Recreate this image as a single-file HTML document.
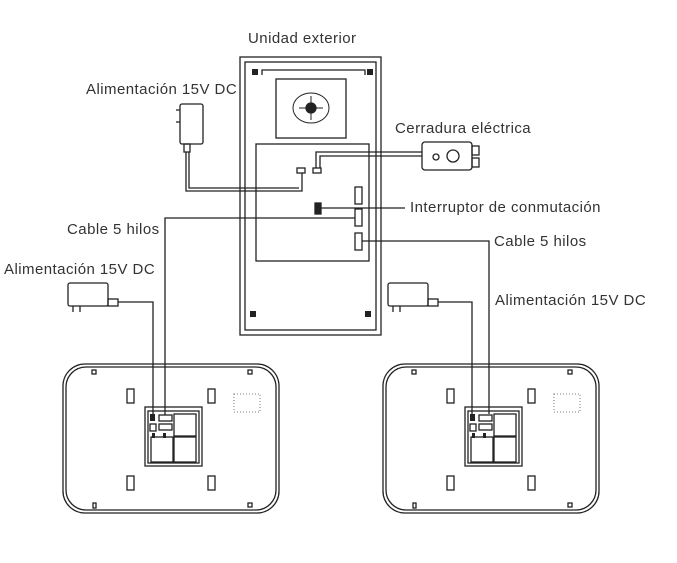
<!DOCTYPE html>
<html><head><style>
body{margin:0;background:#fff;}
svg{display:block;font-family:"Liberation Sans",sans-serif;}
text{font-size:15px;fill:#333;letter-spacing:0.45px;}
</style></head><body>
<svg width="677" height="563" viewBox="0 0 677 563" xmlns="http://www.w3.org/2000/svg">
<g fill="none" stroke="#222" stroke-width="1.3">
<rect x="240" y="57" width="141" height="278"/>
<rect x="245" y="62" width="131" height="268"/>
<path d="M262 75 L262 70 L365 70 L365 75"/>
<rect x="276" y="79" width="70" height="59"/>
<ellipse cx="311" cy="108" rx="18" ry="15" stroke-width="1"/>
<path d="M311 96 v24 M299 108 h24" stroke-width="1"/>
<circle cx="311" cy="108" r="5" fill="#222"/>
<rect x="256" y="144" width="113" height="117"/>
<rect x="355" y="187" width="7" height="17"/>
<rect x="355" y="209" width="7" height="17"/>
<rect x="355" y="233" width="7" height="17"/>
<rect x="315" y="203" width="6" height="11" fill="#222"/>
<rect x="297" y="168" width="8" height="5"/>
<rect x="313" y="168" width="8" height="5"/>
</g>
<g fill="#222">
<rect x="252" y="69" width="6" height="6"/><rect x="367" y="69" width="6" height="6"/>
<rect x="250" y="311" width="6" height="6"/><rect x="365" y="311" width="6" height="6"/>
</g>
<g fill="none" stroke="#222" stroke-width="1.3">
<rect x="180" y="104" width="23" height="40" rx="2"/>
<path d="M176 110 h4 M176 122 h4"/>
<rect x="184" y="144" width="6" height="8"/>
<path d="M186 152 V191 H302 V173"/>
<path d="M189 152 V188 H299"/>
<rect x="422" y="142" width="50" height="28" rx="3"/>
<rect x="472" y="146" width="7" height="9"/><rect x="472" y="158" width="7" height="9"/>
<circle cx="436" cy="157" r="3"/><circle cx="453" cy="156" r="6"/>
<path d="M422 152 H316 V168"/>
<path d="M422 156 H320 V168"/>
<path d="M321 208 H405"/>
<path d="M355 218 H165 V415"/>
<path d="M362 241 H489 V414"/>
<rect x="68" y="283" width="40" height="23" rx="2"/>
<rect x="108" y="299" width="10" height="7"/>
<path d="M118 302 H153 V415"/>
<path d="M73 306 v6 M80 306 v6"/>
<rect x="388" y="283" width="40" height="23" rx="2"/>
<rect x="428" y="299" width="10" height="7"/>
<path d="M438 302 H472 V415"/>
<path d="M393 306 v6 M400 306 v6"/>
</g>
<g id="mon" fill="none" stroke="#222" stroke-width="1.3">
<rect x="63" y="364" width="216" height="149" rx="22"/>
<rect x="66" y="367" width="210" height="143" rx="20"/>
<rect x="127" y="389" width="7" height="14"/><rect x="208" y="389" width="7" height="14"/>
<rect x="127" y="476" width="7" height="14"/><rect x="208" y="476" width="7" height="14"/>
<rect x="92" y="370" width="4" height="4"/><rect x="248" y="370" width="4" height="4"/>
<rect x="93" y="503" width="3" height="5"/><rect x="248" y="503" width="4" height="4"/>
<rect x="145" y="407" width="57" height="59"/>
<rect x="148" y="411" width="51" height="52"/>
<rect x="151" y="437" width="22" height="25"/><rect x="174" y="437" width="22" height="25"/>
<rect x="174" y="414" width="22" height="22"/>
<rect x="159" y="415" width="13" height="6"/><rect x="159" y="424" width="13" height="6"/>
<rect x="150" y="424" width="6" height="7"/>
<rect x="234" y="394" width="26" height="18" stroke="#999" stroke-dasharray="1 2"/>
</g>
<rect x="150" y="414" width="5" height="7" fill="#222"/>
<rect x="152" y="433" width="3" height="5" fill="#222"/><rect x="163" y="433" width="3" height="5" fill="#222"/>
<use href="#mon" transform="translate(320,0)"/>
<rect x="470" y="414" width="5" height="7" fill="#222"/>
<rect x="472" y="433" width="3" height="5" fill="#222"/><rect x="483" y="433" width="3" height="5" fill="#222"/>
<text x="248" y="43">Unidad exterior</text>
<text x="86" y="94">Alimentación 15V DC</text>
<text x="395" y="133">Cerradura eléctrica</text>
<text x="410" y="212">Interruptor de conmutación</text>
<text x="67" y="234">Cable 5 hilos</text>
<text x="494" y="246">Cable 5 hilos</text>
<text x="4" y="274">Alimentación 15V DC</text>
<text x="495" y="305">Alimentación 15V DC</text>
</svg>
</body></html>
